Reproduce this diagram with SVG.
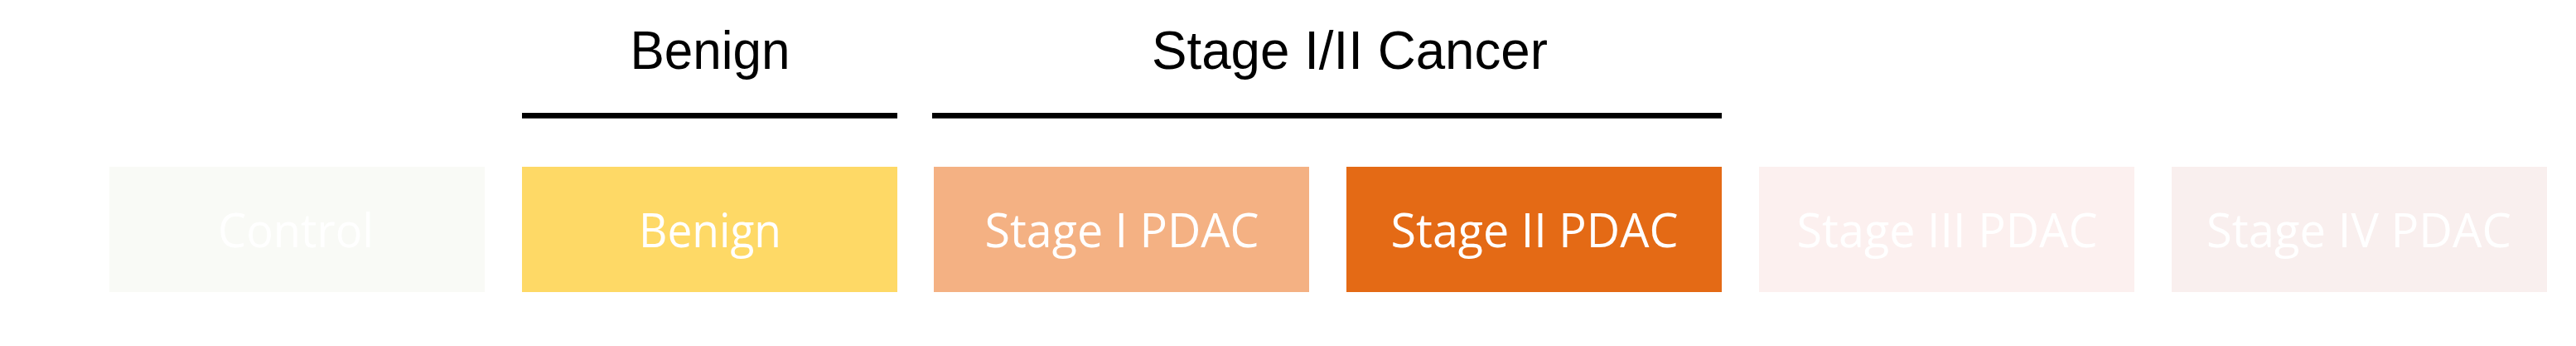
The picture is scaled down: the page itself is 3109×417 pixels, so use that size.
<svg xmlns="http://www.w3.org/2000/svg" width="3109" height="417" viewBox="0 0 3109 417">
  <style>
    .hdr { font-family: "Liberation Sans", Arial, sans-serif; font-size: 64px; fill: #000000; text-anchor: middle; }
    .lbl { font-family: "Open Sans", "Noto Sans", sans-serif; font-size: 56px; fill: #FFFFFF; text-anchor: middle; }
    .bar { fill: #000000; }
  </style>
  <rect x="0" y="0" width="3109" height="417" fill="#FFFFFF"/>
  <g id="headers">
    <text class="hdr" x="857" y="83" textLength="193" lengthAdjust="spacingAndGlyphs">Benign</text>
    <text class="hdr" x="1629" y="83" textLength="478" lengthAdjust="spacingAndGlyphs">Stage I/II Cancer</text>
  </g>
  <g id="connectors">
    <rect class="bar" x="630" y="136" width="453" height="6.7"/>
    <rect class="bar" x="1125" y="136" width="953" height="6.7"/>
  </g>
  <g id="control">
    <rect x="132" y="201" width="453" height="151" fill="#F9FAF6"/>
    <text class="lbl" x="357" y="298" textLength="188" lengthAdjust="spacingAndGlyphs">Control</text>
  </g>
  <g id="benign">
    <rect x="630" y="201" width="453" height="151" fill="#FED966"/>
    <text class="lbl" x="857" y="298" textLength="172" lengthAdjust="spacingAndGlyphs">Benign</text>
  </g>
  <g id="stage1">
    <rect x="1127" y="201" width="453" height="151" fill="#F4B183"/>
    <text class="lbl" x="1354" y="298" textLength="331" lengthAdjust="spacingAndGlyphs">Stage I PDAC</text>
  </g>
  <g id="stage2">
    <rect x="1625" y="201" width="453" height="151" fill="#E46A15"/>
    <text class="lbl" x="1852" y="298" textLength="347" lengthAdjust="spacingAndGlyphs">Stage II PDAC</text>
  </g>
  <g id="stage3">
    <rect x="2123" y="201" width="453" height="151" fill="#FCF0EF"/>
    <text class="lbl" x="2350" y="298" textLength="363" lengthAdjust="spacingAndGlyphs">Stage III PDAC</text>
  </g>
  <g id="stage4">
    <rect x="2621" y="201" width="453" height="151" fill="#F9EFEE"/>
    <text class="lbl" x="2847" y="298" textLength="368" lengthAdjust="spacingAndGlyphs">Stage IV PDAC</text>
  </g>
</svg>
